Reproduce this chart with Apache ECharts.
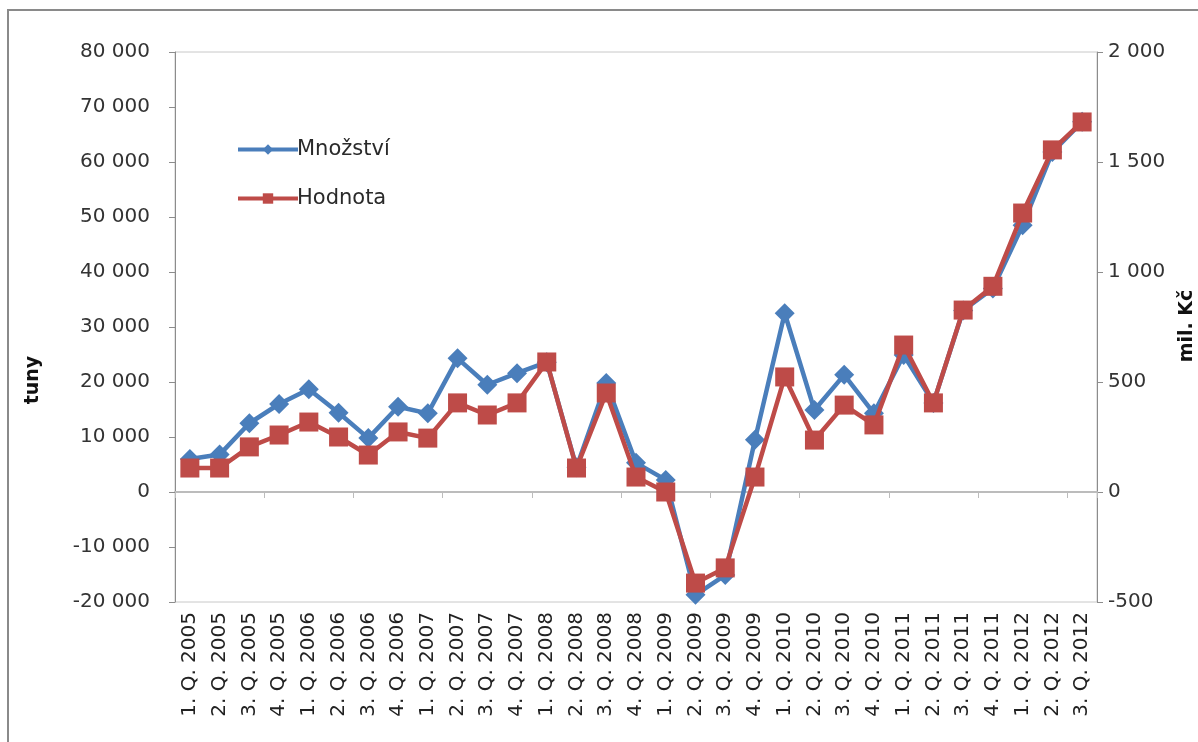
<!DOCTYPE html>
<html>
<head>
<meta charset="utf-8">
<script src="https://cdn.jsdelivr.net/npm/echarts@6/dist/echarts.min.js"></script>
<style>html,body{margin:0;padding:0;background:#fff;}#c{width:1198px;height:742px;}</style>
</head>
<body>
<div id="c"></div>
<script>
const categories = ['1. Q. 2005','2. Q. 2005','3. Q. 2005','4. Q. 2005','1. Q. 2006','2. Q. 2006','3. Q. 2006','4. Q. 2006','1. Q. 2007','2. Q. 2007','3. Q. 2007','4. Q. 2007','1. Q. 2008','2. Q. 2008','3. Q. 2008','4. Q. 2008','1. Q. 2009','2. Q. 2009','3. Q. 2009','4. Q. 2009','1. Q. 2010','2. Q. 2010','3. Q. 2010','4. Q. 2010','1. Q. 2011','2. Q. 2011','3. Q. 2011','4. Q. 2011','1. Q. 2012','2. Q. 2012','3. Q. 2012'];
const mnozstvi = [6000,6800,12500,16000,18700,14400,9800,15500,14300,24300,19500,21600,23600,4500,19800,5300,2200,-18700,-15100,9500,32500,14900,21300,14300,24900,16200,33000,37000,48500,61800,67300];
const hodnota = [109,109,205,259,318,250,168,273,245,405,350,405,591,109,450,68,0,-414,-345,68,523,236,395,305,668,405,827,935,1268,1555,1682];
const seriesNames = ['Množství','Hodnota'];
const leftAxisName = 'tuny';
const rightAxisName = 'mil. Kč';

const fmt = v => String(v).replace(/\B(?=(\d{3})+(?!\d))/g, ' ');
const FONT = '"DejaVu Sans", sans-serif';
const chart = echarts.init(document.getElementById('c'));
chart.setOption({
  animation: false,
  backgroundColor: '#fff',
  textStyle: { fontFamily: FONT },
  grid: { left: 175, right: 101, top: 52, bottom: 140, show: true, borderColor: '#c8c8c8', borderWidth: 1 },
  legend: {
    orient: 'vertical', left: 231, top: 134, itemGap: 28, itemWidth: 60, itemHeight: 13,
    textStyle: { fontSize: 21, color: '#2a2a2a', fontFamily: FONT, padding: [0, 0, 0, -6] },
    lineStyle: { width: 4 },
    data: seriesNames
  },
  xAxis: [
    { type: 'category', data: categories, position: 'bottom',
      axisLine: { show: false, onZero: false }, axisTick: { show: false },
      axisLabel: { interval: 0, rotate: 90, fontSize: 20, color: '#222', margin: 10, fontFamily: FONT } },
    { type: 'category', data: categories, position: 'bottom',
      axisLine: { show: true, onZero: true, onZeroAxisIndex: 0, lineStyle: { color: '#bcbcbc', width: 2 } },
      axisTick: { show: true, length: 6, lineStyle: { color: '#bcbcbc' } },
      axisLabel: { show: false } }
  ],
  yAxis: [
    { type: 'value', min: -20000, max: 80000, interval: 10000, position: 'left',
      axisLine: { show: true, lineStyle: { color: '#8c8c8c', width: 1 } },
      axisTick: { show: true, length: 6, lineStyle: { color: '#8c8c8c' } },
      splitLine: { show: false },
      axisLabel: { formatter: fmt, fontSize: 20, color: '#333', margin: 25, fontFamily: FONT } },
    { type: 'value', min: -500, max: 2000, interval: 500, position: 'right',
      axisLine: { show: true, lineStyle: { color: '#8c8c8c', width: 1 } },
      axisTick: { show: true, length: 6, lineStyle: { color: '#8c8c8c' } },
      splitLine: { show: false },
      axisLabel: { formatter: fmt, fontSize: 20, color: '#333', margin: 11, fontFamily: FONT } }
  ],
  graphic: [
    { type: 'rect', shape: { x: 8, y: 10, width: 1400, height: 900 }, style: { fill: 'none', stroke: '#8a8a8a', lineWidth: 2 } },
    { type: 'text', x: 33, y: 380, rotation: Math.PI / 2,
      style: { text: leftAxisName, font: 'bold 19px ' + FONT, fill: '#111', textAlign: 'center', textVerticalAlign: 'middle' } },
    { type: 'text', x: 1187, y: 326, rotation: Math.PI / 2,
      style: { text: rightAxisName, font: 'bold 19px ' + FONT, fill: '#111', textAlign: 'center', textVerticalAlign: 'middle' } }
  ],
  series: [
    { name: seriesNames[0], type: 'line', xAxisIndex: 0, yAxisIndex: 0, data: mnozstvi,
      symbol: 'diamond', symbolSize: 20, showAllSymbol: true,
      lineStyle: { color: '#4a7ebb', width: 4.5 }, itemStyle: { color: '#4a7ebb' }, z: 2 },
    { name: seriesNames[1], type: 'line', xAxisIndex: 0, yAxisIndex: 1, data: hodnota,
      symbol: 'rect', symbolSize: 19, showAllSymbol: true,
      lineStyle: { color: '#be4b48', width: 4.5 }, itemStyle: { color: '#be4b48' }, z: 3 }
  ]
});
</script>
</body>
</html>
